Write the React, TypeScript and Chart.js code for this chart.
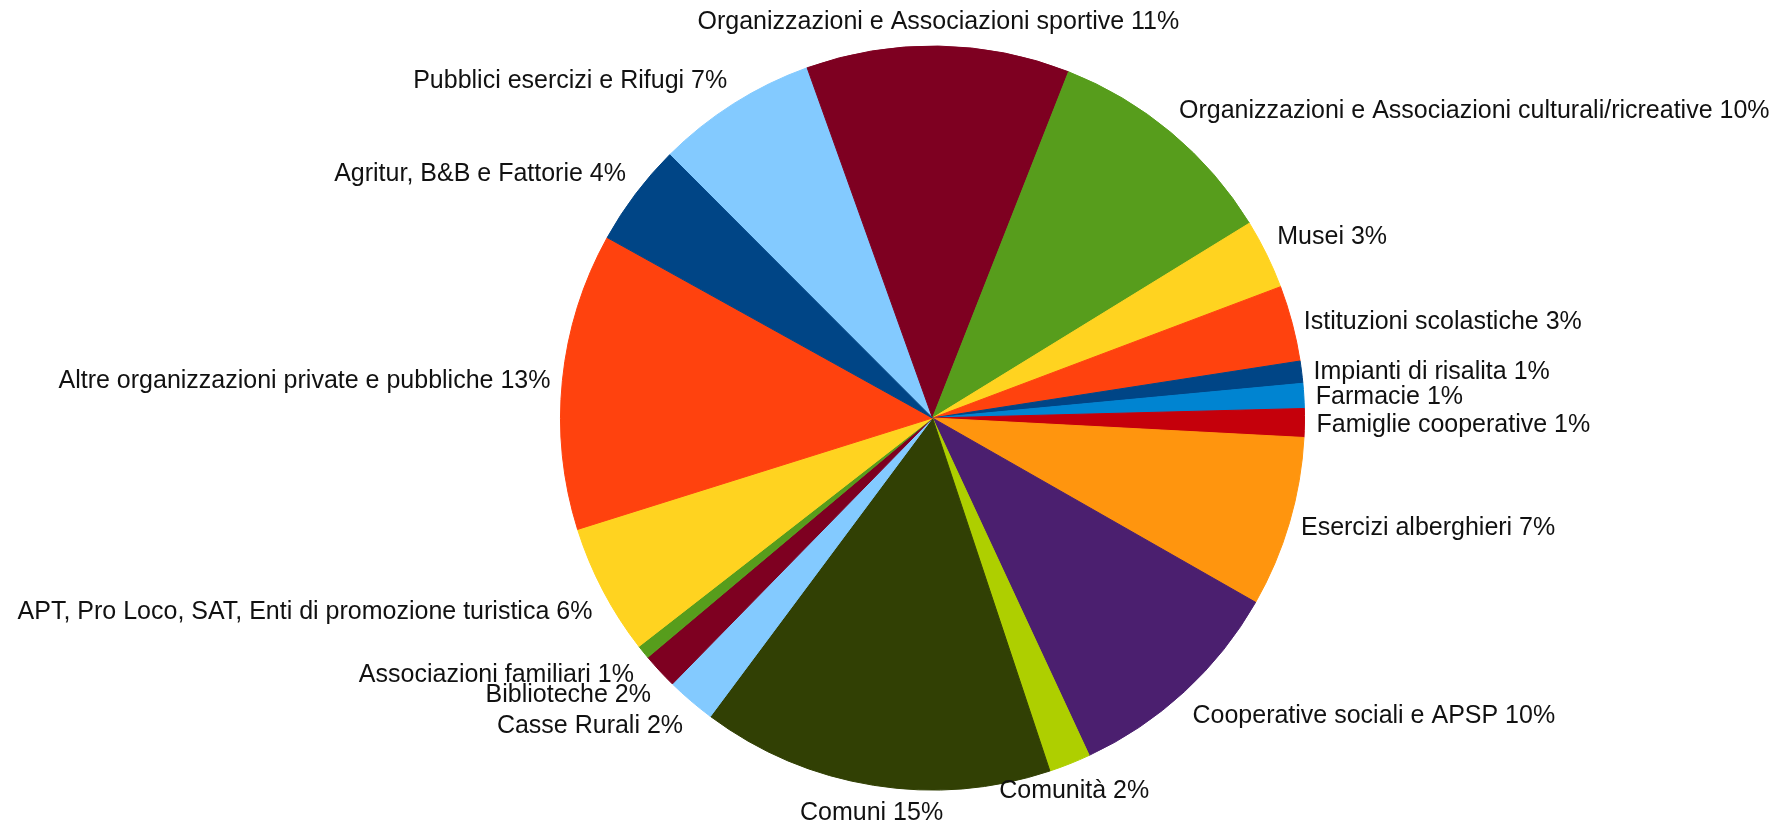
import React, { useEffect, useRef } from "react";
import { Chart, registerables } from "chart.js";

Chart.register(...registerables);

// Slices in clockwise drawing order, starting at the upper-left
const categories = [
  "Pubblici esercizi e Rifugi",
  "Organizzazioni e Associazioni sportive",
  "Organizzazioni e Associazioni culturali/ricreative",
  "Musei",
  "Istituzioni scolastiche",
  "Impianti di risalita",
  "Farmacie",
  "Famiglie cooperative",
  "Esercizi alberghieri",
  "Cooperative sociali e APSP",
  "Comunità",
  "Comuni",
  "Casse Rurali",
  "Biblioteche",
  "Associazioni familiari",
  "APT, Pro Loco, SAT, Enti di promozione turistica",
  "Altre organizzazioni private e pubbliche",
  "Agritur, B&B e Fattorie",
];

const shares = [
  7.01, 11.42, 10.26, 3.03, 3.29, 0.96, 1.08, 1.24, 7.41, 9.82, 1.81, 15.28,
  2.14, 1.55, 0.6, 5.68, 12.89, 4.45,
];

const sliceColors = [
  "#83caff", "#7e0021", "#579d1c", "#ffd320", "#ff420e", "#004586",
  "#0084d1", "#c5000b", "#ff950e", "#4b1f6f", "#aecf00", "#314004",
  "#83caff", "#7e0021", "#579d1c", "#ffd320", "#ff420e", "#004586",
];

const FONT_SIZE = 25;
const LABEL_GAP = 12;

const outsideLabels = {
  id: "outsideLabels",
  afterDatasetsDraw(chart: any) {
    const ctx = chart.ctx;
    const meta = chart.getDatasetMeta(0);
    const data = chart.data.datasets[0].data as number[];
    const total = data.reduce((a, b) => a + b, 0);
    ctx.save();
    ctx.font = `${FONT_SIZE}px "Liberation Sans", Arial, sans-serif`;
    ctx.fillStyle = "#111111";
    ctx.textBaseline = "alphabetic";
    const asc = 0.905 * FONT_SIZE;
    const desc = 0.212 * FONT_SIZE;
    const h = asc + desc;
    meta.data.forEach((arc: any, i: number) => {
      const p = arc.getProps(["x", "y", "startAngle", "endAngle", "outerRadius"], true);
      const mid = (p.startAngle + p.endAngle) / 2;
      const r = p.outerRadius + LABEL_GAP;
      const ax = p.x + Math.cos(mid) * r;
      const ay = p.y + Math.sin(mid) * r;
      let deg = (-mid * 180) / Math.PI;
      deg = ((deg % 360) + 360) % 360;
      const text = `${chart.data.labels[i]} ${Math.round((data[i] / total) * 100)}%`;
      const w = ctx.measureText(text).width;
      let left = ax;
      let top = ay;
      if (deg <= 22.5 || deg >= 337.5) {
        left = ax; top = ay - h / 2;
      } else if (deg < 67.5) {
        left = ax; top = ay - h;
      } else if (deg < 112.5) {
        left = ax - w / 2; top = ay - h;
      } else if (deg <= 157.5) {
        left = ax - w; top = ay - h;
      } else if (deg <= 202.5) {
        left = ax - w; top = ay - h / 2;
      } else if (deg < 247.5) {
        left = ax - w; top = ay;
      } else if (deg < 292.5) {
        left = ax - w / 2; top = ay;
      } else {
        left = ax; top = ay;
      }
      ctx.textAlign = "left";
      ctx.fillText(text, left, top + asc);
    });
    ctx.restore();
  },
};

export default function App() {
  const canvasRef = useRef<HTMLCanvasElement | null>(null);

  useEffect(() => {
    document.body.style.margin = "0";
    document.body.style.background = "#ffffff";
    const canvas = canvasRef.current;
    if (!canvas) return;
    const chart = new Chart(canvas, {
      type: "pie",
      data: {
        labels: categories,
        datasets: [
          {
            data: shares,
            backgroundColor: sliceColors,
            borderColor: sliceColors,
            borderWidth: 1,
          },
        ],
      },
      options: {
        responsive: false,
        animation: false,
        rotation: -44.95,
        layout: {
          padding: { left: 560, right: 481, top: 45.5, bottom: 32.5 },
        },
        plugins: {
          legend: { display: false },
          tooltip: { enabled: false },
        },
      },
      plugins: [outsideLabels],
    });
    return () => chart.destroy();
  }, []);

  return (
    <div style={{ width: 1786, height: 823, background: "#ffffff" }}>
      <canvas ref={canvasRef} width={1786} height={823} style={{ display: "block" }} />
    </div>
  );
}
